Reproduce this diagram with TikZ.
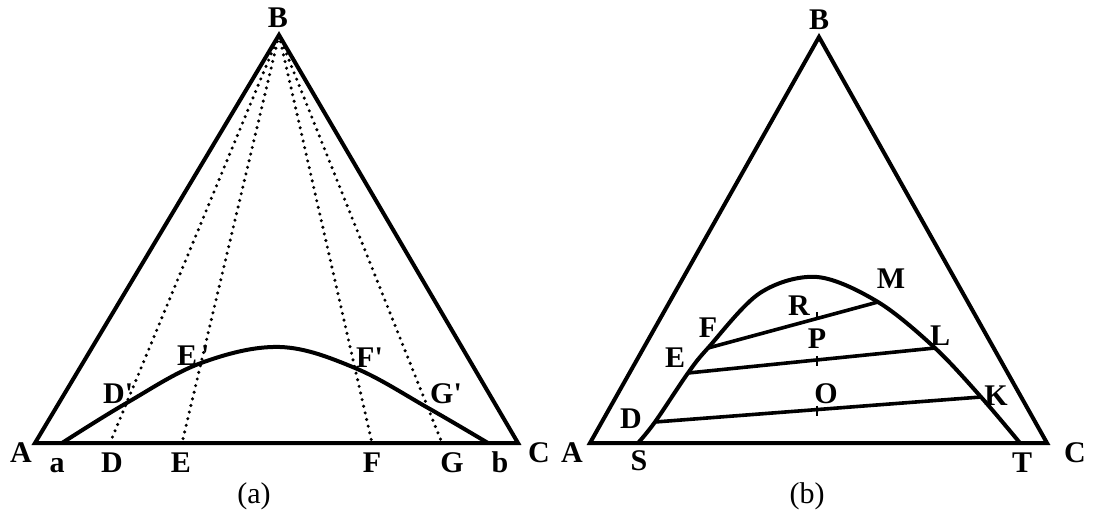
\documentclass[tikz,border=0pt]{standalone}
\usepackage{fontspec}
\setmainfont{Liberation Serif}
\usetikzlibrary{calc}
\begin{document}
\begin{tikzpicture}[x=1pt,y=-1pt,
  edge/.style={line width=4pt, line join=miter},
  curve/.style={line width=4pt, line cap=round},
  chord/.style={line width=3.6pt, line cap=round},
  dots/.style={line width=3.4pt, line cap=round, dash pattern=on 0pt off 6.8pt},
  tickm/.style={line width=2pt},
  lab/.style={font=\fontsize{30}{34}\selectfont\bfseries, inner sep=0pt, anchor=base},
  labw/.style={lab, anchor=base west},
  captionlab/.style={font=\fontsize{30}{34}\selectfont, inner sep=0pt, anchor=center},
  ]
\useasboundingbox (0,0) rectangle (1101,524);
% ---------- panel (a) ----------
\coordinate (A1) at (35,443);
\coordinate (B1) at (279,35);
\coordinate (C1) at (518,443);
\coordinate (pa) at (62,443);
\coordinate (pb) at (488,443);
\coordinate (D1) at (110,443);
\coordinate (E1) at (182,443);
\coordinate (F1) at (372,443);
\coordinate (G1) at (442,443);
\coordinate (Dp) at ($(B1)!0.902!(D1)$);
\coordinate (Ep) at ($(B1)!0.804!(E1)$);
\coordinate (Fp) at ($(B1)!0.816!(F1)$);
\coordinate (Gp) at ($(B1)!0.914!(G1)$);
\coordinate (top1) at (280,347);
\draw[edge] (A1) -- (B1) -- (C1) -- cycle;
\foreach \p in {D1,E1,F1,G1} \draw[dots] (B1) -- (\p);
\draw[curve] plot[smooth, tension=0.6] coordinates {(pa) (Dp) (Ep) (top1) (Fp) (Gp) (pb)};
\node[lab] (lA1) at (21,462) {A};
\node[lab] (lB1) at (278,28) {B};
\node[lab] (lC1) at (539,462) {C};
\node[lab] (la) at (57,472) {a};
\node[lab] (lD1) at (112,472) {D};
\node[lab] (lE1) at (181,472) {E};
\node[lab] (lF1) at (372,472) {F};
\node[lab] (lG1) at (452,472) {G};
\node[lab] (lb) at (500,472) {b};
\node[labw] (lDp) at (103,403) {D\textquotesingle};
\node[labw] (lEp) at (177,365) {E\kern4pt\textquotesingle};
\node[labw] (lFp) at (356,367) {F\textquotesingle};
\node[labw] (lGp) at (430,403) {G\textquotesingle};
\node[captionlab] (capa) at (254,496) {(a)};
% ---------- panel (b) ----------
\coordinate (A2) at (590,443);
\coordinate (B2) at (819,37);
\coordinate (C2) at (1047,443);
\coordinate (S) at (638,443);
\coordinate (D2) at (655,422);
\coordinate (E2) at (688,373);
\coordinate (F2) at (708,348);
\coordinate (q1) at (760,293);
\coordinate (top2) at (817,277);
\coordinate (M) at (878,302);
\coordinate (L) at (935,348);
\coordinate (K) at (981,397);
\coordinate (T) at (1020,443);
\draw[edge] (A2) -- (B2) -- (C2) -- cycle;
\draw[curve] plot[smooth, tension=0.55] coordinates {(S) (D2) (E2) (F2) (q1) (top2) (M) (L) (K) (T)};
\draw[chord] (F2) -- (M);
\draw[chord] (E2) -- (L);
\draw[chord] (D2) -- (K);
\coordinate (R) at ($(F2)!0.641!(M)$);
\coordinate (P) at ($(E2)!0.522!(L)$);
\coordinate (O) at ($(D2)!0.497!(K)$);
\draw[tickm] (R) -- ++(0,-7);
\draw[tickm] ($(P)+(0,-4)$) -- ++(0,10);
\draw[tickm] ($(O)+(0,-4)$) -- ++(0,10);
\node[lab] (lA2) at (572,462) {A};
\node[lab] (lB2) at (819,30) {B};
\node[lab] (lC2) at (1075,462) {C};
\node[lab] (lS) at (639,470) {S};
\node[lab] (lT) at (1022,472) {T};
\node[lab] (lD2) at (631,428) {D};
\node[lab] (lE2) at (675,367) {E};
\node[lab] (lF2) at (708,337) {F};
\node[lab] (lR) at (799,315) {R};
\node[lab] (lP) at (817,348) {P};
\node[lab] (lO) at (826,403) {O};
\node[lab] (lM) at (891,288) {M};
\node[lab] (lL) at (940,345) {L};
\node[lab] (lK) at (996,405) {K};
\node[captionlab] (capb) at (807,496) {(b)};
\end{tikzpicture}
\end{document}
